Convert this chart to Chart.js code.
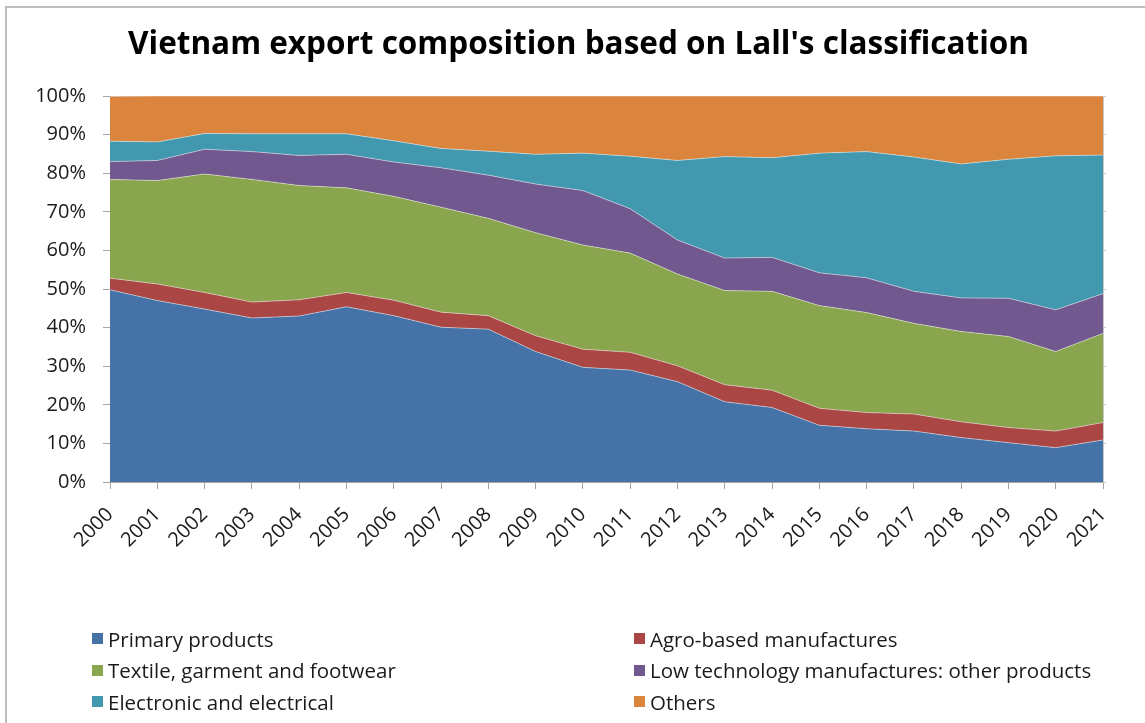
<!DOCTYPE html>
<html>
<head>
<meta charset="utf-8">
<title>Vietnam export composition</title>
<script src="https://cdn.jsdelivr.net/npm/chart.js@4.4.0/dist/chart.umd.min.js"></script>
<style>
    html, body { margin: 0; padding: 0; background: #fff; overflow: hidden; }
    #wrap { position: relative; width: 1145px; height: 723px; }
    #frame {
        position: absolute; left: 5px; top: 6px; width: 1200px; height: 800px;
        border: 2px solid #bdbdbd; box-sizing: border-box; pointer-events: none;
    }
    #exportChart { position: absolute; left: 0; top: 0; }
    #legend {
        position: absolute; left: 92px; top: 623px;
        display: grid; grid-template-columns: 542px 500px; grid-auto-rows: 31.5px;
        font: 20.5px 'Open Sans', sans-serif; color: #1a1a1a;
    }
    #legend div { display: flex; align-items: center; white-space: nowrap; }
    #legend span.box { display: inline-block; width: 11px; height: 11px; margin-right: 5px; }
</style>
</head>
<body>
<div id="wrap">
    <canvas id="exportChart" width="1145" height="723"></canvas>
    <div id="legend"></div>
    <div id="frame"></div>
</div>
<script>
const years = ['2000', '2001', '2002', '2003', '2004', '2005', '2006', '2007', '2008', '2009', '2010',
    '2011', '2012', '2013', '2014', '2015', '2016', '2017', '2018', '2019', '2020', '2021']

// shares in % of total exports
const primary = [49.8, 47.0, 44.8, 42.5, 43.0, 45.4, 43.1, 40.1, 39.6, 33.8, 29.7, 29.0, 26.0, 20.8, 19.3, 14.7, 13.8, 13.2, 11.5, 10.2, 8.9, 10.9]
const agro = [3.0, 4.3, 4.3, 4.1, 4.2, 3.7, 4.0, 3.9, 3.5, 4.1, 4.7, 4.6, 4.1, 4.4, 4.5, 4.4, 4.2, 4.4, 4.1, 3.9, 4.3, 4.5]
const textile = [25.6, 26.8, 30.7, 31.8, 29.6, 27.1, 26.9, 27.2, 25.2, 26.7, 27.0, 25.7, 23.8, 24.4, 25.6, 26.6, 25.9, 23.5, 23.4, 23.6, 20.6, 23.1]
const lowTech = [4.6, 5.2, 6.4, 7.2, 7.8, 8.7, 8.9, 10.2, 11.2, 12.6, 14.1, 11.5, 8.8, 8.4, 8.8, 8.5, 9.0, 8.3, 8.7, 9.9, 10.8, 10.3]
const electronic = [5.3, 4.8, 4.1, 4.6, 5.6, 5.3, 5.5, 5.0, 6.2, 7.7, 9.7, 13.6, 20.6, 26.3, 25.8, 31.0, 32.7, 34.8, 34.7, 36.0, 39.9, 35.9]
const others = [11.6, 11.9, 9.7, 9.8, 9.8, 9.8, 11.6, 13.6, 14.3, 15.1, 14.8, 15.6, 16.7, 15.7, 16.0, 14.8, 14.4, 15.8, 17.6, 16.4, 15.5, 15.3]

const seriesNames = [
    'Primary products',
    'Agro-based manufactures',
    'Textile, garment and footwear',
    'Low technology manufactures: other products',
    'Electronic and electrical',
    'Others'
]
const seriesColors = ['#4572a7', '#aa4643', '#89a54e', '#71588f', '#4198af', '#db843d']
const seriesValues = [primary, agro, textile, lowTech, electronic, others]

const axisGrey = '#a6a6a6'
const tickFont = { family: "'Open Sans'", size: 20 }

// legend in two columns, built from the chart's datasets
const htmlLegend = {
    id: 'htmlLegend',
    afterUpdate(chart) {
        const box = document.getElementById('legend')
        box.innerHTML = ''
        chart.data.datasets.forEach((ds) => {
            const item = document.createElement('div')
            const sq = document.createElement('span')
            sq.className = 'box'
            sq.style.background = ds.backgroundColor
            item.appendChild(sq)
            item.appendChild(document.createTextNode(ds.label))
            box.appendChild(item)
        })
    }
}

const exportChart = new Chart(
    document.getElementById('exportChart'),
    {
        type: 'line',
        data: {
            labels: years,
            datasets: seriesValues.map((vals, i) => ({
                label: seriesNames[i],
                data: vals,
                backgroundColor: seriesColors[i],
                borderColor: 'rgba(255,255,255,0.45)',
                borderWidth: 1,
                pointRadius: 0,
                tension: 0,
                fill: i === 0 ? 'origin' : '-1'
            }))
        },
        options: {
            responsive: false,
            animation: false,
            layout: {
                padding: { left: 12, right: 0, top: 0, bottom: 141 }
            },
            plugins: {
                legend: { display: false },
                tooltip: { enabled: false },
                title: {
                    display: true,
                    text: "Vietnam export composition based on Lall's classification",
                    color: '#000',
                    font: { family: "'Open Sans'", size: 31.5, weight: 'bold' },
                    padding: { top: 26, bottom: 32.2 }
                }
            },
            scales: {
                x: {
                    grid: {
                        drawOnChartArea: false,
                        tickLength: 7,
                        color: axisGrey
                    },
                    border: { color: axisGrey },
                    ticks: {
                        color: '#1a1a1a',
                        font: tickFont,
                        autoSkip: false,
                        minRotation: 45,
                        maxRotation: 45,
                        padding: 14,
                        labelOffset: 0
                    },
                    afterFit: (s) => { s.height = 100 }
                },
                y: {
                    stacked: true,
                    min: 0,
                    max: 100,
                    z: 1,
                    ticks: {
                        stepSize: 10,
                        color: '#1a1a1a',
                        font: tickFont,
                        padding: 17,
                        callback: (v) => v + '%'
                    },
                    grid: {
                        tickLength: 7,
                        color: (ctx) => (ctx.tick && ctx.tick.value === 100 ? axisGrey : 'rgba(0,0,0,0)'),
                        tickColor: axisGrey
                    },
                    border: { color: axisGrey },
                    afterFit: (s) => { s.width = 98 }
                },
                y2: {
                    type: 'linear',
                    position: 'right',
                    display: true,
                    min: 0,
                    max: 100,
                    z: 1,
                    ticks: { display: false, stepSize: 10 },
                    grid: { drawOnChartArea: false, tickLength: 3, color: '#c8c8c8' },
                    border: { color: '#c8c8c8' },
                    afterFit: (s) => { s.width = 42 }
                }
            }
        },
        plugins: [htmlLegend]
    }
)
</script>
</body>
</html>
